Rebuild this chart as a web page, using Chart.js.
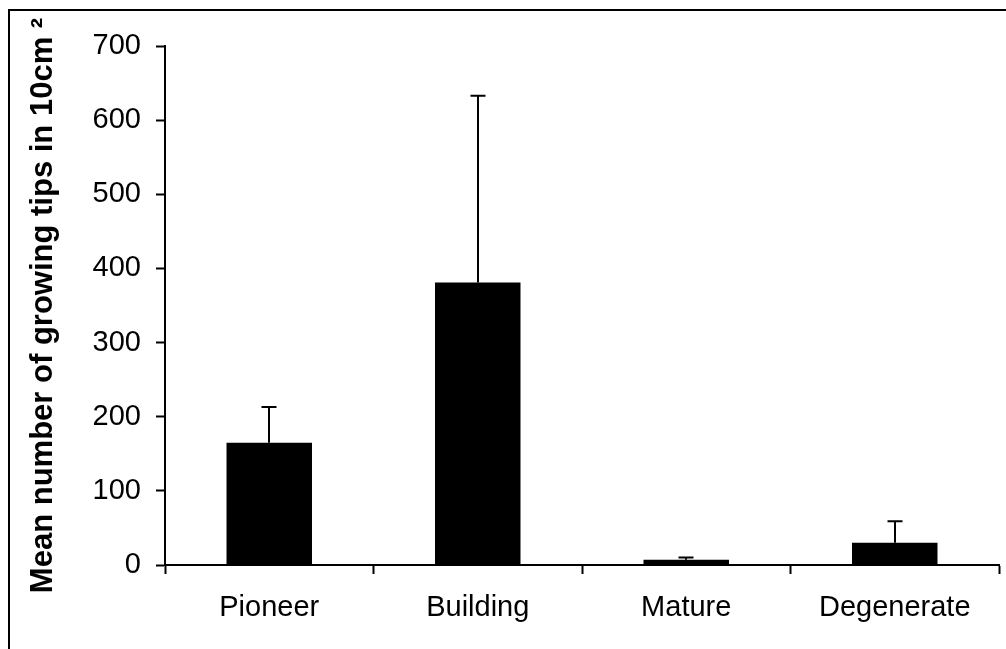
<!DOCTYPE html>
<html>
<head>
<meta charset="utf-8">
<script src="https://cdn.jsdelivr.net/npm/chart.js@4.4.1/dist/chart.umd.min.js"></script>
<style>
    html, body { margin: 0; padding: 0; background: #fff; }
    #wrap { position: relative; width: 1006px; height: 649px; overflow: hidden; }
    #frame {
        position: absolute; left: 8px; top: 9px; width: 1100px; height: 700px;
        border-top: 2px solid #000; border-left: 2px solid #000;
    }
    #myChart { position: absolute; left: 0; top: 0; }
</style>
</head>
<body>
<div id="wrap">
    <div id="frame"></div>
    <canvas id="myChart" width="1006" height="649"></canvas>
</div>
<script>
// stages of the heath cycle
const stages = ['Pioneer', 'Building', 'Mature', 'Degenerate'];
// mean growing tips per 10cm2
const meanTips = [165, 381, 7, 30];
// top of the error bar (mean + SE)
const upperTips = [213, 633, 10, 59];
// y axis tick values
const yTicks = [0, 100, 200, 300, 400, 500, 600, 700];

const fontFamily = '"Liberation Sans", Arial, sans-serif';

// draws the one-sided error bars above each bar
const errorBarPlugin = {
    id: 'errorBars',
    afterDatasetsDraw(chart) {
        const meta = chart.getDatasetMeta(0);
        const yScale = chart.scales.y;
        const ctx = chart.ctx;
        ctx.save();
        ctx.strokeStyle = '#000';
        ctx.lineWidth = 2;
        meta.data.forEach((bar, i) => {
            const x = Math.round(bar.x);
            const yTop = yScale.getPixelForValue(upperTips[i]);
            const yBar = yScale.getPixelForValue(meanTips[i]);
            ctx.beginPath();
            ctx.moveTo(x, yBar);
            ctx.lineTo(x, yTop);
            ctx.moveTo(x - 7.5, yTop);
            ctx.lineTo(x + 7.5, yTop);
            ctx.stroke();
        });
        ctx.restore();
    }
};

const ctx = document.getElementById('myChart');
const myChart = new Chart(ctx, {
    type: 'bar',
    data: {
        labels: stages,
        datasets: [{
            data: meanTips,
            backgroundColor: '#000',
            borderWidth: 0,
            barPercentage: 0.41,
            categoryPercentage: 1
        }]
    },
    options: {
        responsive: false,
        animation: false,
        devicePixelRatio: 1,
        layout: {
            padding: { left: 19, right: 7, top: 46, bottom: 0 }
        },
        plugins: {
            legend: { display: false },
            tooltip: { enabled: false }
        },
        scales: {
            x: {
                afterFit: (scale) => { scale.height = 84; },
                grid: {
                    display: true,
                    offset: true,
                    drawOnChartArea: false,
                    drawTicks: true,
                    tickLength: 9,
                    tickWidth: 2,
                    tickColor: '#000'
                },
                border: { display: true, color: '#000', width: 2 },
                ticks: {
                    color: '#000',
                    padding: 17,
                    maxRotation: 0,
                    font: { family: fontFamily, size: 29 }
                }
            },
            y: {
                min: 0,
                max: 700,
                afterFit: (scale) => { scale.width = 146; },
                afterBuildTicks: (scale) => {
                    scale.ticks = yTicks.map(v => ({ value: v }));
                },
                grid: {
                    display: true,
                    drawOnChartArea: false,
                    drawTicks: true,
                    tickLength: 9,
                    tickWidth: 2,
                    tickColor: '#000'
                },
                border: { display: true, color: '#000', width: 2 },
                ticks: {
                    color: '#000',
                    padding: 15,
                    font: { family: fontFamily, size: 29 }
                },
                title: {
                    display: true,
                    text: 'Mean number of growing tips in 10cm \u00B2',
                    color: '#000',
                    padding: { top: 6, bottom: 0 },
                    font: { family: fontFamily, size: 31, weight: 'bold' }
                }
            }
        }
    },
    plugins: [errorBarPlugin]
});
</script>
</body>
</html>
